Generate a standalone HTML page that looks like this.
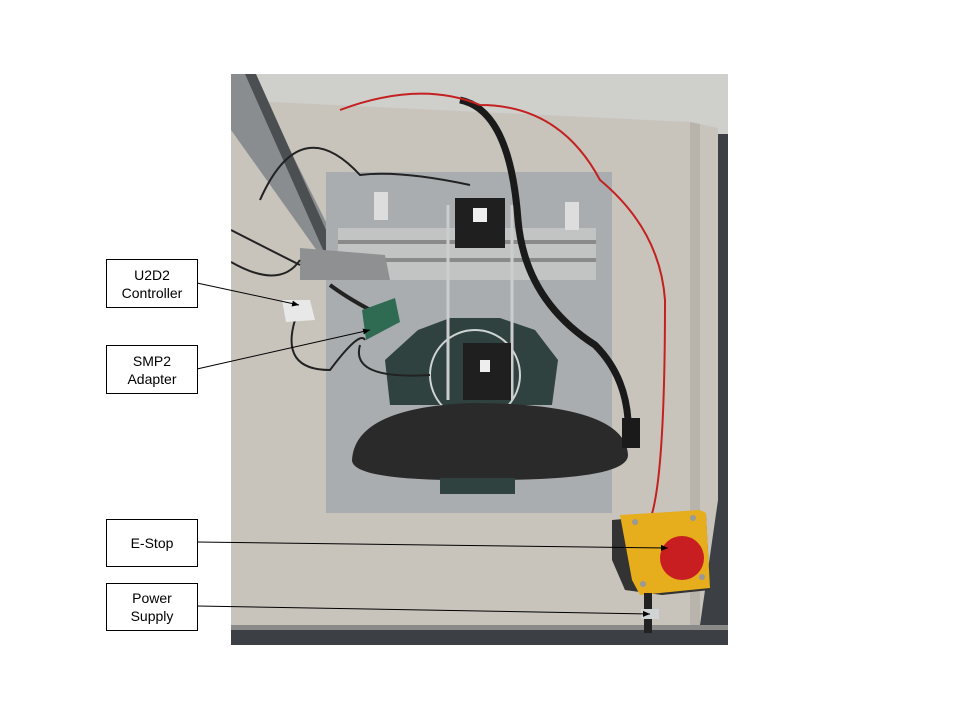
<!DOCTYPE html>
<html><head><style>
body{margin:0;width:960px;height:720px;background:#fff;position:relative;overflow:hidden;font-family:"Liberation Sans",sans-serif}
.lab{position:absolute;left:106px;width:90px;border:1px solid #000;background:#fff;font-size:14px;text-align:center;display:flex;align-items:center;justify-content:center;line-height:18px;color:#000}
</style></head><body>
<svg width="960" height="720" style="position:absolute;left:0;top:0">
<defs>
<marker id="a" markerWidth="8" markerHeight="8" refX="7" refY="4" orient="auto"><path d="M0,1 L7,4 L0,7z" fill="#000"/></marker>
<clipPath id="c"><rect x="231" y="74" width="497" height="571"/></clipPath>
</defs>
<g clip-path="url(#c)">
<rect x="231" y="74" width="497" height="571" fill="#3c4044"/>
<rect x="231" y="74" width="497" height="60" fill="#cfcfcc"/>
<polygon points="231,100 690,122 718,128 718,500 700,625 231,625" fill="#c8c4bc"/>
<polygon points="690,122 700,124 700,625 690,625" fill="#b8b4ac"/>
<rect x="231" y="625" width="497" height="5" fill="#8a8a88"/>
<polygon points="231,74 252,74 340,250 320,255 231,130" fill="#8a8d90"/>
<polygon points="245,74 256,74 335,250 324,252" fill="#4c4f52"/>
<rect x="326" y="172" width="286" height="341" fill="#a9adb0"/>
<rect x="338" y="228" width="258" height="52" fill="#c2c4c4"/>
<rect x="338" y="240" width="258" height="4" fill="#8a8a8a"/>
<rect x="338" y="258" width="258" height="4" fill="#8a8a8a"/>
<rect x="374" y="192" width="14" height="28" fill="#ddd"/>
<rect x="565" y="202" width="14" height="28" fill="#ddd"/>
<polygon points="300,248 385,255 390,280 300,280" fill="#8e9092"/>
<polygon points="418,330 450,318 500,318 535,330 558,360 552,405 390,405 385,360" fill="#2f4240"/>
<circle cx="475" cy="375" r="45" fill="none" stroke="#cfd3d3" stroke-width="2"/>
<rect x="455" y="198" width="50" height="50" fill="#1f1f1f"/>
<rect x="473" y="208" width="14" height="14" fill="#eee"/>
<line x1="448" y1="205" x2="448" y2="400" stroke="#ccc" stroke-width="3"/>
<line x1="512" y1="205" x2="512" y2="400" stroke="#ccc" stroke-width="3"/>
<rect x="463" y="343" width="48" height="57" fill="#1f1f1f"/>
<rect x="480" y="360" width="10" height="12" fill="#eee"/>
<path d="M352,460 Q355,408 470,403 Q625,403 628,455 Q628,480 490,480 Q352,482 352,460z" fill="#2a2a2a"/>
<rect x="440" y="478" width="75" height="16" fill="#2f4240"/>
<path d="M460,100 Q510,110 518,220 Q525,300 595,345 Q625,375 628,420 L628,440" stroke="#1a1a1a" stroke-width="7" fill="none"/>
<rect x="622" y="418" width="18" height="30" fill="#1a1a1a"/>
<path d="M340,110 Q420,80 480,105 Q560,105 600,180 Q660,230 665,300 Q665,480 650,520" stroke="#c42020" stroke-width="2" fill="none"/>
<path d="M260,200 Q300,110 360,175 Q400,170 470,185" stroke="#222" stroke-width="2" fill="none"/>
<path d="M231,230 Q270,250 300,265 M231,262 Q280,290 300,260" stroke="#222" stroke-width="2" fill="none"/>
<path d="M295,320 Q280,370 330,370 Q360,330 365,340 M360,345 Q350,380 430,375" stroke="#222" stroke-width="2" fill="none"/>
<path d="M330,285 Q350,300 380,315" stroke="#222" stroke-width="4" fill="none"/>
<polygon points="362,310 395,298 400,322 366,340" fill="#2f6a52"/>
<polygon points="282,300 310,300 315,320 286,322" fill="#e8e8e8"/>
<polygon points="612,520 690,513 706,515 710,590 662,595 625,590 612,560" fill="#333"/>
<polygon points="620,515 700,510 706,513 710,588 640,595 632,580" fill="#e6ad1c"/>
<circle cx="682" cy="558" r="22" fill="#c81e22"/>
<circle cx="635" cy="522" r="3" fill="#999"/><circle cx="693" cy="518" r="3" fill="#999"/>
<circle cx="643" cy="584" r="3" fill="#999"/><circle cx="702" cy="577" r="3" fill="#999"/>
<rect x="644" y="593" width="8" height="40" fill="#222"/>
<rect x="641" y="609" width="18" height="10" fill="#d0d4d4"/>
</g>
<g stroke="#000" stroke-width="1" fill="none">
<line x1="197" y1="283" x2="299" y2="305" marker-end="url(#a)"/>
<line x1="197" y1="369" x2="370" y2="330" marker-end="url(#a)"/>
<line x1="197" y1="542" x2="668" y2="548" marker-end="url(#a)"/>
<line x1="197" y1="606" x2="650" y2="614" marker-end="url(#a)"/>
</g>
</svg>
<div class="lab" style="top:259px;height:47px">U2D2<br>Controller</div>
<div class="lab" style="top:345px;height:47px">SMP2<br>Adapter</div>
<div class="lab" style="top:519px;height:46px">E-Stop</div>
<div class="lab" style="top:583px;height:46px">Power<br>Supply</div>
</body></html>
